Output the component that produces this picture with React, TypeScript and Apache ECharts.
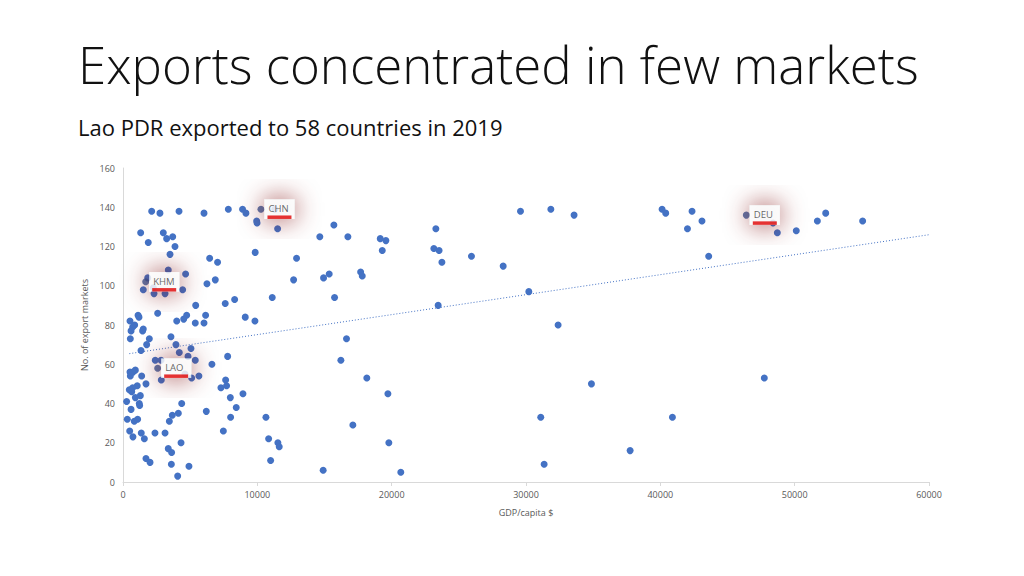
import React, { useEffect, useRef } from "react";
import * as echarts from "echarts";

const titleText = "Exports concentrated in few markets";
const subtitleText = "Lao PDR exported to 58 countries in 2019";
const xAxisName = "GDP/capita $";
const yAxisName = "No. of export markets";

// GDP per capita (US$) of each export market
const gdpPerCapita = [
  2135, 2750, 4170, 6030, 7840, 8900, 9150, 11300, 9950, 9980, 11510, 1315, 3000, 3250, 3700, 1880,
  3870, 9840, 3500, 6450, 7040, 12920, 14650, 3370, 4660, 1840, 1510, 2260, 2310, 3130, 4440, 6250,
  6870, 12700, 11110, 5410, 7610, 8310, 2580, 1120, 1190, 4740, 4520, 6150, 9100, 4000, 5380, 6030,
  9820, 520, 870, 720, 1510, 1460, 600, 545, 1960, 3570, 3940, 1760, 1340, 4190, 4840, 5060, 5380,
  2400, 2830, 2850, 4610, 5110, 5650, 6620, 7790, 7640, 7290, 7710, 7990, 8930, 8430, 8010, 7470,
  6200, 4370, 4120, 3670, 3450, 3130, 2380, 1360, 1590, 740, 500, 320, 1090, 840, 600, 270, 1210,
  1240, 1290, 920, 1060, 1710, 720, 470, 650, 545, 520, 740, 920, 1390, 3370, 3620, 4320, 1710, 2010,
  3600, 4910, 4070, 10640, 10840, 11530, 11630, 10990, 15700, 16740, 19150, 19570, 19300, 23290,
  23140, 23530, 23740, 25940, 28300, 29590, 14930, 15350, 17690, 17810, 15750, 23460, 16640, 16220,
  18150, 19720, 17110, 19790, 14900, 20680, 31850, 33580, 30210, 32390, 34870, 31100, 31350, 37750,
  40900, 40130, 40400, 42360, 43100, 42020, 43600, 48390, 48710, 50120, 51690, 52310, 55060, 47740,
];

// Number of export markets of each country
const exportMarkets = [
  138, 137, 138, 137, 139, 139, 137, 139, 133, 132, 129, 127, 127, 124, 125, 122,
  120, 117, 116, 114, 112, 114, 125, 108, 106, 104, 98, 99, 96, 96, 98, 101,
  103, 103, 94, 90, 91, 93, 86, 85, 84, 85, 83, 85, 84, 82, 81, 81,
  82, 82, 80, 79, 78, 77, 77, 73, 73, 74, 70, 70, 67, 66, 64, 68, 62,
  62, 62, 52, 55, 53, 54, 60, 64, 52, 48, 49, 43, 45, 38, 33, 26,
  36, 40, 35, 34, 31, 25, 25, 25, 22, 23, 26, 32, 32, 31, 37, 41, 40,
  39, 44, 43, 49, 50, 48, 47, 46, 54, 56, 56, 57, 54, 17, 15, 20, 12, 10,
  9, 8, 3, 33, 22, 20, 18, 11, 131, 125, 124, 123, 118, 129,
  119, 118, 112, 115, 110, 138, 104, 106, 107, 105, 94, 90, 73, 62,
  53, 45, 29, 20, 6, 5, 139, 136, 97, 80, 50, 33, 9, 16,
  33, 139, 137, 138, 133, 129, 115, 132, 127, 128, 133, 137, 133, 53,
];

// Highlighted countries
const highlightCodes = ["CHN", "KHM", "LAO", "DEU"];
const highlightGdp = [10270, 1690, 2580, 46400];
const highlightMarkets = [139, 102, 58, 136];

// Linear trend line end points
const trendGdp = [470, 60000];
const trendMarkets = [65.4, 126];

const xTicks = { min: 0, max: 60000, interval: 10000 };
const yTicks = { min: 0, max: 160, interval: 20 };

export default function App() {
  const ref = useRef<HTMLDivElement>(null);
  useEffect(() => {
    if (!ref.current) return;
    const chart = echarts.init(ref.current, undefined, { renderer: "svg" });
    const pts = gdpPerCapita.map((g, i) => [g, exportMarkets[i]]);
    const hl = highlightCodes.map((c, i) => ({ name: c, value: [highlightGdp[i], highlightMarkets[i]] }));
    const axisLabel = {
      color: "#595959",
      fontSize: 9,
      fontFamily: "Open Sans",
      formatter: (v: number) => String(v),
    };
    chart.setOption({
      animation: false,
      backgroundColor: "#ffffff",
      title: [
        {
          text: titleText,
          left: 73,
          top: 33,
          textStyle: { fontFamily: "Open Sans", fontWeight: 300, fontSize: 51, color: "#111111" },
        },
        {
          text: subtitleText,
          left: 73,
          top: 111,
          textStyle: { fontFamily: "Open Sans", fontWeight: 400, fontSize: 22, color: "#111111" },
        },
      ],
      grid: { left: 123, right: 95, top: 168, bottom: 94 },
      xAxis: {
        type: "value",
        ...xTicks,
        name: xAxisName,
        nameLocation: "middle",
        nameGap: 26,
        nameTextStyle: { color: "#595959", fontSize: 9, fontFamily: "Open Sans" },
        axisLine: { show: true, lineStyle: { color: "#d9d9d9" } },
        axisTick: { show: true, length: 4, lineStyle: { color: "#d9d9d9" } },
        axisLabel: { ...axisLabel, margin: 8 },
        splitLine: { show: false },
      },
      yAxis: {
        type: "value",
        ...yTicks,
        name: yAxisName,
        nameLocation: "middle",
        nameGap: 30,
        nameTextStyle: { color: "#595959", fontSize: 9, fontFamily: "Open Sans" },
        axisLine: { show: true, lineStyle: { color: "#d9d9d9" } },
        axisTick: { show: false },
        axisLabel: { ...axisLabel, margin: 8 },
        splitLine: { show: false },
      },
      series: [
        {
          type: "line",
          data: trendGdp.map((g, i) => [g, trendMarkets[i]]),
          symbol: "none",
          lineStyle: { color: "#4472c4", width: 1, type: [1, 2] },
          silent: true,
          z: 1,
        },
        {
          type: "scatter",
          data: pts,
          symbolSize: 7,
          itemStyle: { color: "#4472c4", opacity: 1 },
          z: 2,
        },
        {
          type: "scatter",
          data: hl,
          symbolSize: 7,
          itemStyle: { color: "#35599a" },
          z: 3,
          label: {
            show: true,
            position: "right",
            distance: 0,
            formatter: (p: any) => `{t|${p.name}}\n{b|}`,
            backgroundColor: "#ffffff",
            shadowBlur: 26,
            shadowColor: "rgba(120,15,15,0.95)",
            padding: [3, 3, 0, 3],
            rich: {
              t: { color: "#404040", fontSize: 9.5, fontFamily: "Open Sans", padding: [1, 1, 2, 1] },
              b: { backgroundColor: "#e00000", height: 3.5, width: 24 },
            },
          },
        },
      ],
    });
    return () => chart.dispose();
  }, []);
  return <div ref={ref} style={{ position: "fixed", left: 0, top: 0, width: 1024, height: 576 }} />;
}
